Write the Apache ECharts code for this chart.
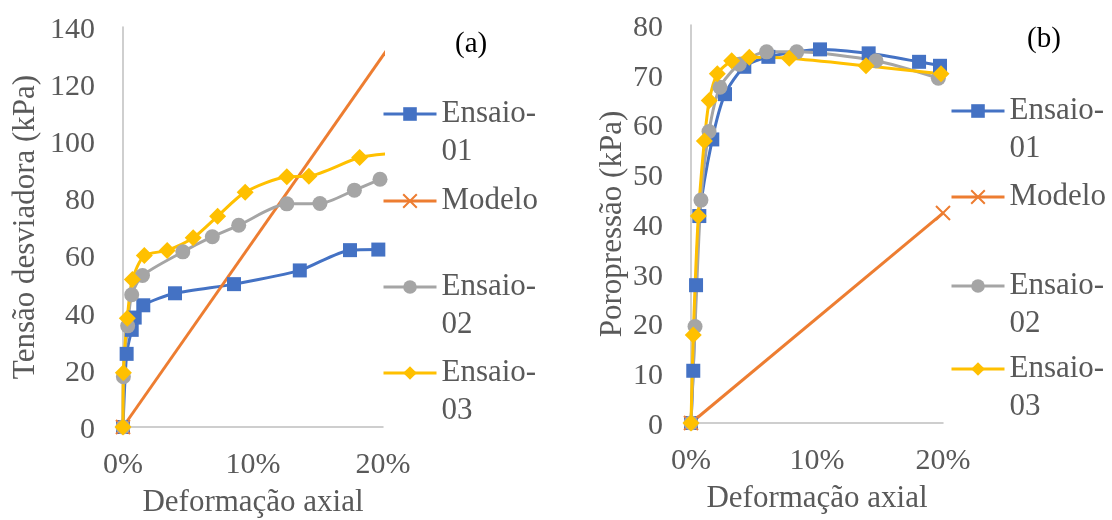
<!DOCTYPE html>
<html>
<head>
<meta charset="utf-8">
<script src="https://cdn.jsdelivr.net/npm/echarts@6/dist/echarts.min.js"></script>
<style>
  html, body { margin: 0; padding: 0; background: #fff; }
  #chart { width: 1112px; height: 520px; }
</style>
</head>
<body>
<div id="chart"></div>
<script>
// (a) Tensão desviadora x deformação axial
const tensaoEnsaio01X = [0, 0.0028, 0.0067, 0.009, 0.0156, 0.040, 0.0854, 0.136, 0.1746, 0.1964];
const tensaoEnsaio01Y = [0, 25.6, 34.0, 38.3, 42.6, 46.8, 50.0, 54.8, 61.9, 62.1];
const tensaoModeloX = [0, 0.22];
const tensaoModeloY = [0, 143];
const tensaoEnsaio02X = [0, 0.0003, 0.0036, 0.0067, 0.015, 0.046, 0.0687, 0.089, 0.126, 0.1515, 0.178, 0.1977];
const tensaoEnsaio02Y = [0, 17.6, 35.4, 46.3, 53.0, 61.3, 66.6, 70.6, 78.1, 78.2, 82.9, 86.7];
const tensaoEnsaio03X = [0, 0.0003, 0.0033, 0.0072, 0.0164, 0.034, 0.054, 0.0728, 0.094, 0.126, 0.143, 0.182, 0.215];
const tensaoEnsaio03Y = [0, 19.0, 38.1, 51.6, 60.0, 61.8, 66.2, 73.8, 82.2, 87.6, 87.8, 94.3, 96.0];

// (b) Poropressão x deformação axial
const poroEnsaio01X = [0, 0.0018, 0.004, 0.0066, 0.0169, 0.027, 0.0423, 0.0614, 0.1024, 0.141, 0.181, 0.1976];
const poroEnsaio01Y = [0, 10.5, 27.7, 41.6, 57.0, 66.1, 71.6, 73.6, 75.1, 74.3, 72.6, 71.8];
const poroModeloX = [0, 0.2];
const poroModeloY = [0, 42.2];
const poroEnsaio02X = [0, 0.0032, 0.0079, 0.0143, 0.023, 0.0383, 0.060, 0.0839, 0.1468, 0.1963];
const poroEnsaio02Y = [0, 19.4, 44.8, 58.6, 67.5, 72.1, 74.6, 74.6, 72.8, 69.3];
const poroEnsaio03X = [0, 0.0018, 0.0058, 0.0106, 0.0145, 0.0209, 0.0323, 0.0463, 0.078, 0.1389, 0.1984];
const poroEnsaio03Y = [0, 17.7, 41.6, 56.7, 64.8, 70.2, 72.8, 73.5, 73.3, 71.8, 70.2];

const seriesNames = ['Ensaio-01', 'Modelo', 'Ensaio-02', 'Ensaio-03'];
const xTitle = 'Deformação axial';
const yTitleA = 'Tensão desviadora (kPa)';
const yTitleB = 'Poropressão (kPa)';

const COLORS = {
  'Ensaio-01': '#4472C4',
  'Modelo': '#ED7D31',
  'Ensaio-02': '#A5A5A5',
  'Ensaio-03': '#FFC000'
};
const SYMBOLS = {
  'Ensaio-01': { symbol: 'rect', size: 14 },
  'Modelo': { symbol: 'path://M0,0 L10,10 M10,0 L0,10', size: 14 },
  'Ensaio-02': { symbol: 'circle', size: 15 },
  'Ensaio-03': { symbol: 'diamond', size: 17 }
};
const FONT = '"Liberation Serif", "Times New Roman", serif';
const TEXT = '#595959';

function pairs(xs, ys) { return xs.map((x, i) => [x, ys[i]]); }

function makeSeries(name, xs, ys, idx) {
  const isModel = name === 'Modelo';
  const s = SYMBOLS[name];
  return {
    name: name,
    type: 'line',
    xAxisIndex: idx,
    yAxisIndex: idx,
    data: pairs(xs, ys),
    smooth: isModel ? false : 0.25,
    clip: true,
    symbol: s.symbol,
    symbolSize: s.size,
    showAllSymbol: true,
    lineStyle: { color: COLORS[name], width: 3 },
    itemStyle: isModel
      ? { color: 'transparent', borderColor: COLORS[name], borderWidth: 2 }
      : { color: COLORS[name], borderWidth: 0 },
    emphasis: { disabled: true },
    animation: false
  };
}

function xAxis(idx) {
  return {
    gridIndex: idx,
    type: 'value',
    min: 0, max: 0.2, interval: 0.1,
    name: xTitle,
    nameLocation: 'middle',
    nameGap: 60,
    nameTextStyle: { fontFamily: FONT, fontSize: 31, color: TEXT },
    axisLine: { show: true, onZero: false, lineStyle: { color: '#BFBFBF', width: 1.5 } },
    axisTick: { show: false },
    splitLine: { show: false },
    axisLabel: {
      margin: 23,
      fontFamily: FONT, fontSize: 30, color: TEXT,
      formatter: v => Math.round(v * 100) + '%'
    }
  };
}

function yAxis(idx, max, interval, title, gap) {
  return {
    gridIndex: idx,
    type: 'value',
    min: 0, max: max, interval: interval,
    name: title,
    nameLocation: 'middle',
    nameGap: gap,
    nameTextStyle: { fontFamily: FONT, fontSize: 31, color: TEXT },
    axisLine: { show: true, lineStyle: { color: '#BFBFBF', width: 1.5 } },
    axisTick: { show: false },
    splitLine: { show: false },
    axisLabel: {
      margin: 28,
      formatter: v => '{t|' + v + '}',
      rich: { t: { fontFamily: FONT, fontSize: 30, color: TEXT, padding: [6, 0, 0, 0] } }
    }
  };
}

// One legend block per entry so each can sit at its own row.
// Two-line names get a blank first line so the key lines up with "Ensaio-".
function legendItem(name, left, row) {
  const twoLine = name.indexOf('Ensaio-') === 0;
  const lh = 38;
  return {
    left: left,
    top: row - (twoLine ? lh * 1.5 : lh / 2) + 1,
    padding: 0,
    orient: 'vertical',
    data: [name],
    itemWidth: 53,
    itemHeight: 17,
    itemGap: 0,
    selectedMode: false,
    lineStyle: { width: 3 },
    formatter: n => twoLine ? ' \n' + n.replace('-', '-\n') : n,
    textStyle: { fontFamily: FONT, fontSize: 31, color: TEXT, lineHeight: lh }
  };
}

const legendRowsA = [113, 200, 286, 372];
const legendRowsB = [110, 196, 285, 368];

const legends = [];
seriesNames.forEach((n, i) => {
  legends.push(legendItem(n, 382, legendRowsA[i]));
  legends.push(legendItem(n, 950, legendRowsB[i]));
});

const chart = echarts.init(document.getElementById('chart'), null, { renderer: 'canvas' });
chart.setOption({
  animation: false,
  backgroundColor: '#ffffff',
  title: [
    { text: '(a)', left: 455, top: 30, padding: 0, textStyle: { fontFamily: FONT, fontSize: 29, fontWeight: 'normal', color: '#000' } },
    { text: '(b)', left: 1027, top: 25, padding: 0, textStyle: { fontFamily: FONT, fontSize: 29, fontWeight: 'normal', color: '#000' } }
  ],
  grid: [
    { left: 123, top: 27, width: 260, height: 400, containLabel: false, outerBoundsMode: 'none' },
    { left: 691, top: 25, width: 252, height: 398, containLabel: false, outerBoundsMode: 'none' }
  ],
  xAxis: [xAxis(0), xAxis(1)],
  yAxis: [
    yAxis(0, 140, 20, yTitleA, 82),
    yAxis(1, 80, 10, yTitleB, 63)
  ],
  legend: legends,
  series: [
    makeSeries('Ensaio-01', tensaoEnsaio01X, tensaoEnsaio01Y, 0),
    makeSeries('Modelo', tensaoModeloX, tensaoModeloY, 0),
    makeSeries('Ensaio-02', tensaoEnsaio02X, tensaoEnsaio02Y, 0),
    makeSeries('Ensaio-03', tensaoEnsaio03X, tensaoEnsaio03Y, 0),
    makeSeries('Ensaio-01', poroEnsaio01X, poroEnsaio01Y, 1),
    makeSeries('Modelo', poroModeloX, poroModeloY, 1),
    makeSeries('Ensaio-02', poroEnsaio02X, poroEnsaio02Y, 1),
    makeSeries('Ensaio-03', poroEnsaio03X, poroEnsaio03Y, 1)
  ]
});
</script>
</body>
</html>
